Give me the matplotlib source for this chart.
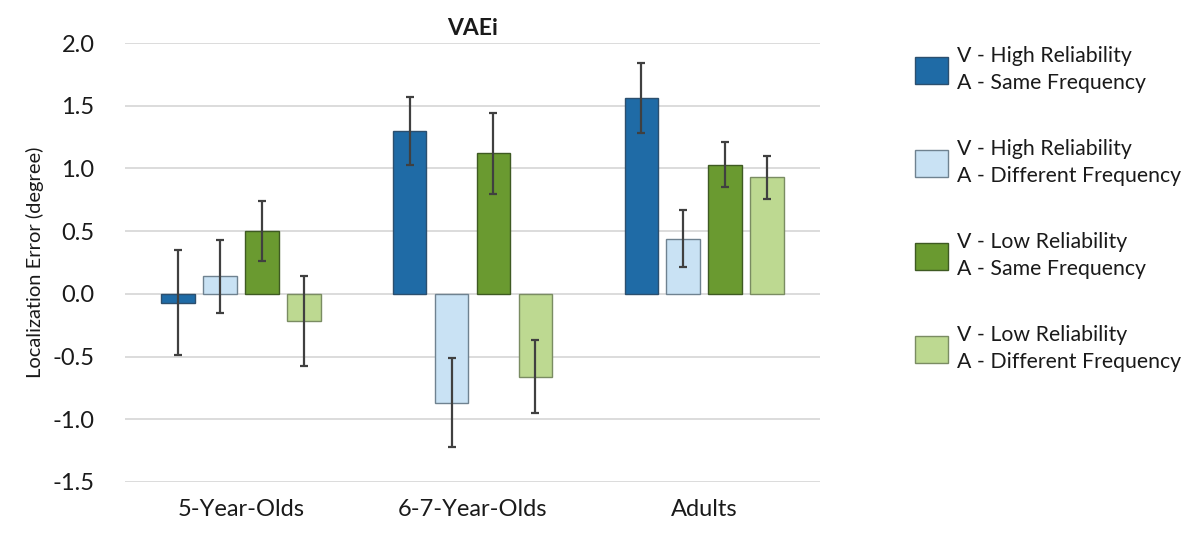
import numpy as np
import matplotlib.pyplot as plt
from matplotlib.patches import Patch

plt.rcParams['font.family'] = ['Lato', 'DejaVu Sans']

# data
groups = ["5-Year-Olds", "6-7-Year-Olds", "Adults"]
series = ["V - High Reliability\nA - Same Frequency",
          "V - High Reliability\nA - Different Frequency",
          "V - Low Reliability\nA - Same Frequency",
          "V - Low Reliability\nA - Different Frequency"]
high_same = [-0.07, 1.30, 1.56]
high_diff = [0.14, -0.87, 0.44]
low_same = [0.50, 1.12, 1.03]
low_diff = [-0.215, -0.66, 0.93]
err_high_same = [0.42, 0.27, 0.28]
err_high_diff = [0.29, 0.355, 0.225]
err_low_same = [0.24, 0.32, 0.18]
err_low_diff = [0.36, 0.29, 0.17]

values = [high_same, high_diff, low_same, low_diff]
errors = [err_high_same, err_high_diff, err_low_same, err_low_diff]
colors = ["#1F6BA6", "#C9E2F4", "#6A9A30", "#BDD991"]
edges = ["#2C4F6E", "#6F8290", "#3E5A22", "#7A8C62"]

fig = plt.figure(figsize=(11.94, 5.39), dpi=100)
ax = fig.add_axes([0.1047, 0.1058, 0.5821, 0.8144])

x = np.arange(len(groups))
step = 0.181
width = 0.145
for i in range(4):
    pos = x + (i - 1.5) * step
    ax.bar(pos, values[i], width, color=colors[i], edgecolor=edges[i],
           linewidth=1, zorder=3)
    ax.errorbar(pos, values[i], yerr=errors[i], fmt='none', ecolor="#404040",
                elinewidth=1.6, capsize=3, capthick=1.6, zorder=4)

ax.set_xlim(-0.5, 2.5)
ax.set_ylim(-1.5, 2.0)
ax.set_yticks(np.arange(-1.5, 2.01, 0.5))
ax.set_yticklabels([f"{v:.1f}" for v in np.arange(-1.5, 2.01, 0.5)])
ax.set_xticks(x)
ax.set_xticklabels(groups)
ax.tick_params(axis='both', length=0, labelsize=17, colors="#1a1a1a")
ax.tick_params(axis='x', pad=12)
ax.tick_params(axis='y', pad=22)
ax.yaxis.grid(True, color="#D9D9D9", linewidth=1.3, zorder=0)
for s in ax.spines.values():
    s.set_visible(False)

ax.set_ylabel("Localization Error (degree)", fontsize=14.5, color="#1a1a1a", labelpad=6)
ax.set_title("VAEi", fontsize=16.5, fontweight='bold', pad=6, color="#1a1a1a")

handles = [Patch(facecolor=colors[i], edgecolor=edges[i], label=series[i]) for i in range(4)]
leg = fig.legend(handles=handles, loc='upper left', bbox_to_anchor=(0.750, 0.95),
                 frameon=False, fontsize=15.3, handlelength=1.55, handleheight=1.55,
                 labelspacing=2.15, handletextpad=0.45, labelcolor="#1a1a1a")
for t in leg.get_texts():
    t.set_linespacing(1.45)

fig.savefig("out.png", dpi=100)
